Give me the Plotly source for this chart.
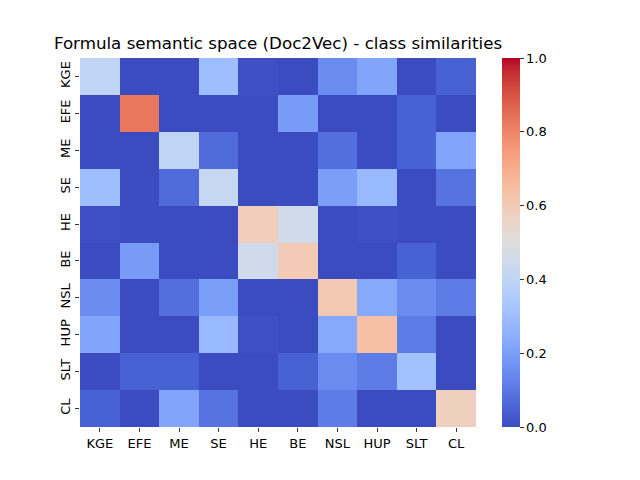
import plotly.graph_objects as go

classes = ['KGE', 'EFE', 'ME', 'SE', 'HE', 'BE', 'NSL', 'HUP', 'SLT', 'CL']

# class similarity matrix, rows/cols in the order of classes
sim_kge = [0.40, 0.00, 0.00, 0.30, 0.01, 0.00, 0.15, 0.22, 0.00, 0.05]
sim_efe = [0.00, 0.83, 0.00, 0.00, 0.00, 0.19, 0.00, 0.00, 0.05, 0.00]
sim_me = [0.00, 0.00, 0.40, 0.07, 0.00, 0.00, 0.08, 0.00, 0.05, 0.22]
sim_se = [0.30, 0.00, 0.07, 0.42, 0.00, 0.00, 0.20, 0.28, 0.00, 0.09]
sim_he = [0.01, 0.00, 0.00, 0.00, 0.59, 0.45, 0.00, 0.01, 0.00, 0.00]
sim_be = [0.00, 0.19, 0.00, 0.00, 0.45, 0.60, 0.00, 0.00, 0.05, 0.00]
sim_nsl = [0.15, 0.00, 0.08, 0.20, 0.00, 0.00, 0.61, 0.23, 0.15, 0.11]
sim_hup = [0.22, 0.00, 0.00, 0.28, 0.01, 0.00, 0.23, 0.64, 0.11, 0.00]
sim_slt = [0.00, 0.05, 0.05, 0.00, 0.00, 0.05, 0.15, 0.11, 0.31, 0.00]
sim_cl = [0.05, 0.00, 0.22, 0.09, 0.00, 0.00, 0.11, 0.00, 0.00, 0.58]

z = [sim_kge, sim_efe, sim_me, sim_se, sim_he, sim_be, sim_nsl, sim_hup, sim_slt, sim_cl]

# matplotlib coolwarm (Moreland), 33 stops
cw = [(59, 76, 192), (68, 90, 204), (77, 104, 215), (87, 117, 225), (98, 130, 234),
      (108, 142, 241), (119, 154, 247), (130, 165, 251), (141, 176, 254), (152, 185, 255),
      (163, 194, 255), (174, 201, 253), (184, 208, 249), (194, 213, 244), (204, 217, 238),
      (213, 219, 230), (221, 221, 221), (229, 216, 209), (236, 211, 197), (241, 204, 184),
      (245, 196, 172), (247, 187, 159), (247, 177, 147), (247, 166, 134), (244, 154, 123),
      (241, 141, 111), (236, 127, 99), (229, 112, 89), (222, 96, 77), (213, 80, 66),
      (203, 62, 56), (192, 40, 47), (180, 4, 38)]
coolwarm = [[i / (len(cw) - 1), 'rgb(%d,%d,%d)' % c] for i, c in enumerate(cw)]

fig = go.Figure(go.Heatmap(
    z=z, x=classes, y=classes,
    colorscale=coolwarm, zmin=0, zmax=1,
    xgap=0, ygap=0,
    colorbar=dict(
        x=422 / 396, xanchor='left', xref='paper', xpad=0,
        y=0.5, yanchor='middle', len=1, lenmode='fraction', ypad=0,
        thickness=18, outlinewidth=0,
        tickvals=[0, 0.2, 0.4, 0.6, 0.8, 1.0], ticktext=['0.0', '0.2', '0.4', '0.6', '0.8', '1.0'],
        ticks='outside', ticklen=4, tickcolor='#333',
        tickfont=dict(family='DejaVu Sans', size=13, color='black'),
    ),
))

# page body adds 8px around the plot div, margins account for it
fig.update_layout(
    width=640, height=480,
    margin=dict(l=72, r=172, t=50, b=61),
    paper_bgcolor='white', plot_bgcolor='white',
    font=dict(family='DejaVu Sans', size=13, color='black'),
    title=dict(text='Formula semantic space (Doc2Vec) - class similarities',
               x=0.5, xref='paper', xanchor='center',
               y=1, yref='paper', yanchor='bottom', pad=dict(b=9),
               font=dict(family='DejaVu Sans', size=16.7, color='black')),
)
fig.update_xaxes(showgrid=False, zeroline=False, showline=False,
                 ticks='outside', ticklen=4, tickcolor='#333', tickangle=0)
fig.update_yaxes(showgrid=False, zeroline=False, showline=False, autorange='reversed',
                 ticks='outside', ticklen=4, tickcolor='#333', tickangle=-90)

fig.write_html("out.html")
